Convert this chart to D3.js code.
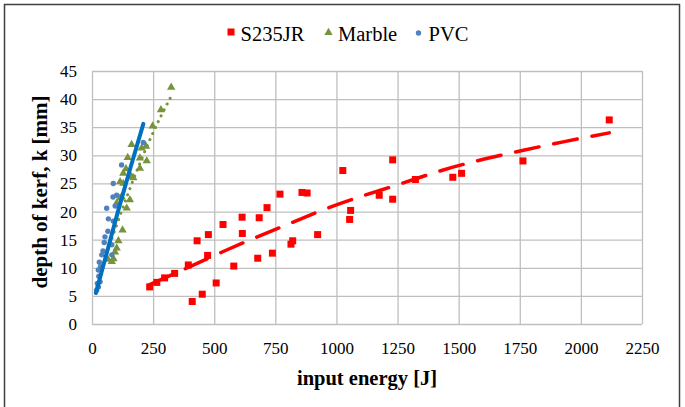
<!DOCTYPE html>
<html>
<head>
<meta charset="utf-8">
<script src="https://cdn.jsdelivr.net/npm/d3@7"></script>
<style>
  body { margin: 0; background: #fff; }
  svg text { font-family: "Liberation Serif", "Times New Roman", serif; }
</style>
</head>
<body>
<div id="chart"></div>
<script>
// values: [input energy J, depth of kerf mm]
const s235jr = [
  [236, 6.6], [265, 7.4], [297, 8.2], [338, 9.0], [394, 10.5], [410, 4.0],
  [430, 14.8], [451, 5.3], [476, 15.9], [473, 12.2], [508, 7.3], [536, 17.7],
  [580, 10.3], [614, 19.0], [615, 16.1], [678, 11.7], [684, 18.9], [716, 20.7],
  [738, 12.6], [769, 23.1], [814, 14.2], [821, 14.8], [859, 23.4], [880, 23.3],
  [923, 15.9], [1026, 27.3], [1054, 18.6], [1058, 20.2], [1175, 22.9], [1230, 29.2],
  [1230, 22.2], [1323, 25.7], [1476, 26.1], [1512, 26.8], [1763, 29.0], [2116, 36.3]
];
const marble = [
  [324, 42.1], [282, 38.1], [248, 35.2], [221, 31.6], [224, 29.0], [203, 31.3],
  [196, 29.5], [196, 27.7], [169, 26.0], [162, 31.9], [146, 29.6], [139, 27.6],
  [128, 26.8], [128, 25.0], [162, 26.2], [115, 25.3], [155, 22.1], [121, 22.6],
  [115, 22.4], [101, 21.5], [142, 20.6], [125, 16.7], [108, 14.8], [101, 13.5],
  [94, 12.8], [81, 11.1], [65, 11.5], [88, 11.6]
];
const pvc = [
  [210, 32.3], [121, 28.3], [87, 25.0], [86, 22.6], [60, 20.6], [67, 18.7],
  [87, 18.3], [53, 15.5], [81, 14.1], [81, 12.3], [40, 12.3], [26, 9.6],
  [33, 7.5], [26, 6.6], [19, 6.0], [30, 11.0], [45, 13.0], [35, 10.2],
  [22, 7.2], [28, 8.5], [50, 14.5], [65, 16.5], [95, 21.0], [101, 22.9]
];

// trendlines
const s235jrTrend = [
  [236, 7.0], [401, 10.2], [537, 12.9], [799, 17.7], [957, 20.5], [1274, 25.1],
  [1437, 27.4], [1601, 29.3], [1765, 30.9], [1928, 32.4], [2116, 34.0]
];
const marbleTrend = [
  [55, 11.9], [100, 17.5], [150, 23.5], [230, 32.1], [280, 36.8], [324, 40.5]
];
const pvcTrend = [
  [16, 5.5], [60, 12.6], [108, 20.3], [160, 28.2], [210, 35.6]
];

const xTicks = [0, 250, 500, 750, 1000, 1250, 1500, 1750, 2000, 2250];
const yTicks = [0, 5, 10, 15, 20, 25, 30, 35, 40, 45];
const seriesNames = ["S235JR", "Marble", "PVC"];

const W = 685, H = 407;
const serif = "Liberation Serif";
const red = "#ff0000", green = "#77933c", blue = "#4f81bd", blueLine = "#0070c0";

const svg = d3.select("#chart").append("svg")
  .attr("width", W).attr("height", H)
  .attr("font-family", serif);

// outer frame
svg.append("rect")
  .attr("x", 4.5).attr("y", 4.5).attr("width", 675).attr("height", 404)
  .attr("fill", "none").attr("stroke", "#404040").attr("stroke-width", 1.5);

const x = d3.scaleLinear().domain([0, 2250]).range([92, 642]);
const y = d3.scaleLinear().domain([0, 45]).range([324, 71]);

// y axis with gridlines
const gy = svg.append("g")
  .attr("transform", `translate(${x(0)},0)`)
  .call(d3.axisLeft(y).tickValues(yTicks).tickFormat(d3.format("d"))
    .tickSizeInner(-(x(2250) - x(0))).tickSizeOuter(0).tickPadding(15));
gy.attr("font-family", serif).attr("font-size", 17);
gy.select(".domain").remove();
gy.selectAll("line").attr("stroke", "#bfbfbf").attr("stroke-width", 1.3);
gy.selectAll("text").attr("fill", "#000");

// x axis with gridlines
const gx = svg.append("g")
  .attr("transform", `translate(0,${y(0)})`)
  .call(d3.axisBottom(x).tickValues(xTicks).tickFormat(d3.format("d"))
    .tickSizeInner(-(y(0) - y(45))).tickSizeOuter(0).tickPadding(18));
gx.attr("font-family", serif).attr("font-size", 17);
gx.select(".domain").remove();
gx.selectAll("line").attr("stroke", "#bfbfbf").attr("stroke-width", 1.3);
gx.selectAll("text").attr("fill", "#000");

// axis titles
svg.append("text")
  .attr("x", 367).attr("y", 385)
  .attr("text-anchor", "middle").attr("font-weight", "bold").attr("font-size", 20.5)
  .text("input energy [J]");
svg.append("text")
  .attr("transform", "translate(47,192) rotate(-90)")
  .attr("text-anchor", "middle").attr("font-weight", "bold").attr("font-size", 21)
  .text("depth of kerf, k [mm]");

const tri = d3.symbol().type(d3.symbolTriangle).size(30);

// markers
svg.append("g").selectAll("rect").data(s235jr).join("rect")
  .attr("x", d => x(d[0]) - 3.5).attr("y", d => y(d[1]) - 3.5)
  .attr("width", 7).attr("height", 7).attr("fill", red);

svg.append("g").selectAll("path").data(marble).join("path")
  .attr("transform", d => `translate(${x(d[0])},${y(d[1])})`)
  .attr("d", tri).attr("fill", green);

svg.append("g").selectAll("circle").data(pvc).join("circle")
  .attr("cx", d => x(d[0])).attr("cy", d => y(d[1]))
  .attr("r", 2.7).attr("fill", blue);

// trendlines
const line = d3.line().x(d => x(d[0])).y(d => y(d[1])).curve(d3.curveMonotoneX);

svg.append("path").datum(s235jrTrend)
  .attr("d", line).attr("fill", "none")
  .attr("stroke", red).attr("stroke-width", 3.5)
  .attr("stroke-linecap", "round").attr("stroke-dasharray", "24 15");

svg.append("path").datum(marbleTrend)
  .attr("d", line).attr("fill", "none")
  .attr("stroke", green).attr("stroke-width", 3)
  .attr("stroke-linecap", "round").attr("stroke-dasharray", "0.1 6.5");

svg.append("path").datum(pvcTrend)
  .attr("d", line).attr("fill", "none")
  .attr("stroke", blueLine).attr("stroke-width", 4)
  .attr("stroke-linecap", "round");

// legend
const legend = svg.append("g");
legend.append("rect").attr("x", 227.5).attr("y", 28.5).attr("width", 7).attr("height", 7).attr("fill", red);
legend.append("path").attr("transform", "translate(328.5,32.5)").attr("d", tri).attr("fill", green);
legend.append("circle").attr("cx", 418.5).attr("cy", 33).attr("r", 2.7).attr("fill", blue);
const legendX = [240.5, 338, 428.5];
legend.selectAll("text").data(seriesNames).join("text")
  .attr("x", (d, i) => legendX[i]).attr("y", 41)
  .attr("font-family", serif).attr("font-size", 20.5).attr("fill", "#000")
  .text(d => d);
</script>
</body>
</html>
